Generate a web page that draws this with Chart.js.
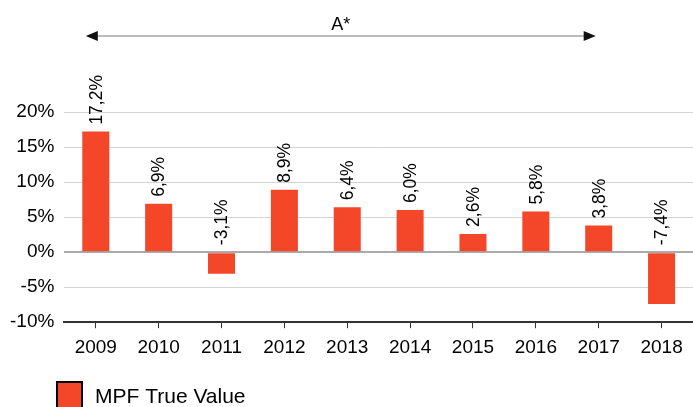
<!DOCTYPE html>
<html>
<head>
<meta charset="utf-8">
<script src="https://cdn.jsdelivr.net/npm/chart.js@4/dist/chart.umd.min.js"></script>
<style>
  html, body { margin: 0; padding: 0; background: #fff; }
  #wrap { width: 693px; height: 407px; }
</style>
</head>
<body>
<div id="wrap"><canvas id="mpf"></canvas></div>
<script>
// data
var years = ["2009", "2010", "2011", "2012", "2013", "2014", "2015", "2016", "2017", "2018"];
var trueValue = [17.2, 6.9, -3.1, 8.9, 6.4, 6.0, 2.6, 5.8, 3.8, -7.4];
var seriesName = "MPF True Value";
var arrowLabel = "A*";
var arrowFrom = "2009";
var arrowTo = "2017";

var barColor = '#f4472a';
var fontFam = 'Arial, "Liberation Sans", sans-serif';

// value labels, arrow and legend
var extras = {
    id: 'extras',
    afterDatasetsDraw: function(chart) {
        var ctx = chart.ctx;
        var xs = chart.scales.x, ys = chart.scales.y;
        ctx.save();
        ctx.fillStyle = '#000';
        ctx.font = '17.5px ' + fontFam;
        ctx.textAlign = 'left';
        ctx.textBaseline = 'middle';
        for (var i = 0; i < trueValue.length; i++) {
            var v = trueValue[i];
            var x = xs.getPixelForValue(i);
            var y = ys.getPixelForValue(Math.max(v, 0)) - 7;
            ctx.save();
            ctx.translate(x, y);
            ctx.rotate(-Math.PI / 2);
            ctx.fillText(v.toFixed(1).replace('.', ',') + '%', 0, 1);
            ctx.restore();
        }

        // arrow across the top
        var x1 = xs.getPixelForValue(years.indexOf(arrowFrom)) - 10;
        var x2 = xs.getPixelForValue(years.indexOf(arrowTo)) - 3;
        var ay = 36;
        ctx.strokeStyle = '#bbb';
        ctx.lineWidth = 2;
        ctx.beginPath();
        ctx.moveTo(x1 + 8, ay);
        ctx.lineTo(x2 - 8, ay);
        ctx.stroke();
        ctx.fillStyle = '#111';
        ctx.beginPath();
        ctx.moveTo(x1, ay); ctx.lineTo(x1 + 12, ay - 5); ctx.lineTo(x1 + 12, ay + 5); ctx.closePath();
        ctx.fill();
        ctx.beginPath();
        ctx.moveTo(x2, ay); ctx.lineTo(x2 - 12, ay - 5); ctx.lineTo(x2 - 12, ay + 5); ctx.closePath();
        ctx.fill();
        ctx.fillStyle = '#000';
        ctx.font = '18px ' + fontFam;
        ctx.textAlign = 'center';
        ctx.textBaseline = 'alphabetic';
        ctx.fillText(arrowLabel, (x1 + x2) / 2, 30);

        // legend
        ctx.fillStyle = barColor;
        ctx.fillRect(57, 382, 25, 26);
        ctx.strokeStyle = '#000';
        ctx.lineWidth = 2;
        ctx.strokeRect(57, 382, 25, 26);
        ctx.fillStyle = '#000';
        ctx.font = '21px ' + fontFam;
        ctx.textAlign = 'left';
        ctx.textBaseline = 'middle';
        ctx.fillText(seriesName, 95, 397);
        ctx.restore();
    }
};

var ctxMpf = document.getElementById("mpf").getContext("2d");
var mpfChart = new Chart(ctxMpf, {
    type: 'bar',
    data: {
        labels: years,
        datasets: [{
            label: seriesName,
            data: trueValue,
            backgroundColor: barColor,
            borderWidth: 0,
            barPercentage: 0.43,
            categoryPercentage: 1
        }]
    },
    options: {
        responsive: true,
        maintainAspectRatio: false,
        animation: false,
        layout: {
            padding: { top: 112, right: 0, left: 0, bottom: 40 }
        },
        plugins: {
            legend: { display: false },
            tooltip: { enabled: false }
        },
        scales: {
            x: {
                grid: {
                    offset: false,
                    drawOnChartArea: false,
                    tickLength: 6,
                    color: '#333'
                },
                border: { color: '#333', width: 2 },
                ticks: {
                    color: '#000',
                    padding: 8,
                    font: { size: 19, family: fontFam }
                }
            },
            y: {
                min: -10,
                max: 20,
                grid: {
                    drawTicks: false,
                    color: function(c) { return c.tick.value === 0 ? '#aaa' : '#d3d3d3'; },
                    lineWidth: function(c) { return c.tick.value === 0 ? 2 : 1; }
                },
                border: { display: false },
                ticks: {
                    stepSize: 5,
                    color: '#000',
                    padding: 10,
                    font: { size: 19, family: fontFam },
                    callback: function(v) { return v + '%'; }
                }
            }
        }
    },
    plugins: [extras]
});
</script>
</body>
</html>
